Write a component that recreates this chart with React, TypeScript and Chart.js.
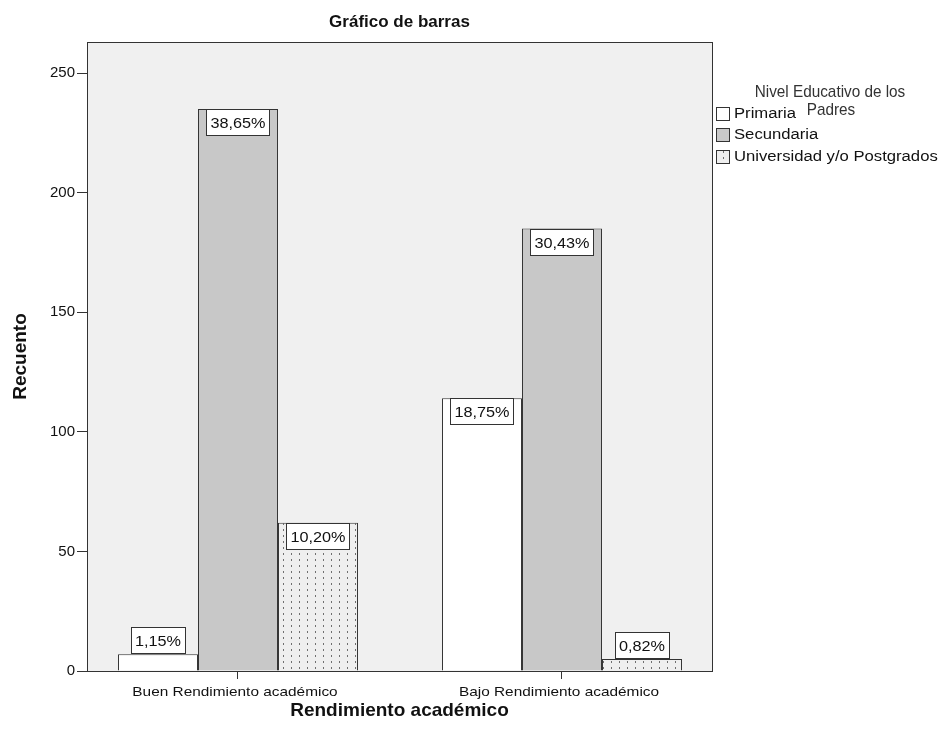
import React, { useEffect, useRef } from "react";
import { Chart, registerables, CategoryScale } from "chart.js";

Chart.register(...registerables);

const categories = ["Buen Rendimiento académico", "Bajo Rendimiento académico"];
const seriesNames = ["Primaria", "Secundaria", "Universidad y/o Postgrados"];
const primaria = [7, 114];
const secundaria = [235, 185];
const universidad = [62, 5];
const primariaPct = ["1,15%", "18,75%"];
const secundariaPct = ["38,65%", "30,43%"];
const universidadPct = ["10,20%", "0,82%"];
const yTicks = [0, 50, 100, 150, 200, 250];

const FONT = "'Liberation Sans', Arial, sans-serif";
const LINE = "#333333";

class ShiftCategoryScale extends (CategoryScale as any) {
  static id = "shiftcategory";
  static defaults = (CategoryScale as any).defaults;
  buildTicks() {
    const t = super.buildTicks();
    this._startValue = -0.466;
    this._valueRange = 1.929;
    return t;
  }
  configure() {
    super.configure();
    this._startValue = -0.466;
    this._valueRange = 1.929;
  }
}
Chart.register(ShiftCategoryScale as any);

function makeDotPattern(): CanvasPattern | string {
  const c = document.createElement("canvas");
  c.width = 8;
  c.height = 6;
  const g = c.getContext("2d");
  if (!g) return "#eeeeee";
  g.fillStyle = "#efefef";
  g.fillRect(0, 0, 8, 6);
  g.fillStyle = "#6f6f6f";
  g.fillRect(3, 1, 1, 2);
  const p = g.createPattern(c, "repeat");
  return p || "#eeeeee";
}

function scaledText(ctx: CanvasRenderingContext2D, txt: string, x: number, y: number, align: "left" | "center", sx: number) {
  ctx.save();
  ctx.translate(x, y);
  ctx.scale(sx, 1);
  ctx.textAlign = align;
  ctx.textBaseline = "middle";
  ctx.fillText(txt, 0, 0);
  ctx.restore();
}

export default function App() {
  const ref = useRef<HTMLCanvasElement>(null);

  useEffect(() => {
    if (!ref.current) return;
    const dot = makeDotPattern();
    const fills: any[] = ["#ffffff", "#c8c8c8", dot];
    const pcts = [primariaPct, secundariaPct, universidadPct];

    const plugin = {
      id: "spssDeco",
      beforeDraw(chart: any) {
        const { ctx, chartArea: a } = chart;
        ctx.save();
        ctx.fillStyle = "#ffffff";
        ctx.fillRect(0, 0, chart.width, chart.height);
        ctx.fillStyle = "#f0f0f0";
        ctx.fillRect(a.left, a.top, a.right - a.left, a.bottom - a.top);
        ctx.restore();
      },
      afterDatasetsDraw(chart: any) {
        const { ctx } = chart;
        ctx.save();
        ctx.font = `14.5px ${FONT}`;
        chart.data.datasets.forEach((ds: any, di: number) => {
          const meta = chart.getDatasetMeta(di);
          meta.data.forEach((el: any, i: number) => {
            const txt = pcts[di][i];
            const tw = ctx.measureText(txt).width * 1.12;
            const bw = Math.round(tw + 8);
            const bh = 26;
            const barH = el.base - el.y;
            let top = barH > bh + 2 ? el.y : el.y - bh - 1;
            const left = Math.round(el.x - bw / 2) + 0.5;
            top = Math.round(top) + 0.5;
            ctx.fillStyle = "#ffffff";
            ctx.fillRect(left, top, bw, bh);
            ctx.strokeStyle = LINE;
            ctx.lineWidth = 1;
            ctx.strokeRect(left, top, bw, bh);
            ctx.fillStyle = "#111111";
            scaledText(ctx, txt, el.x, top + bh / 2 + 1, "center", 1.12);
          });
        });
        ctx.restore();
      },
      afterDraw(chart: any) {
        const { ctx, chartArea: a } = chart;
        const xs = chart.scales.x;
        ctx.save();
        ctx.strokeStyle = LINE;
        ctx.lineWidth = 1;
        ctx.strokeRect(Math.round(a.left) + 0.5, Math.round(a.top) + 0.5, Math.round(a.right - a.left), Math.round(a.bottom - a.top));
        ctx.fillStyle = "#111111";
        ctx.textAlign = "center";
        ctx.textBaseline = "middle";
        const cx = (a.left + a.right) / 2;
        ctx.font = `bold 17px ${FONT}`;
        ctx.fillText("Gráfico de barras", cx, 22);
        ctx.font = `bold 19px ${FONT}`;
        ctx.fillText("Rendimiento académico", cx, 711);
        ctx.save();
        ctx.translate(21, (a.top + a.bottom) / 2);
        ctx.rotate(-Math.PI / 2);
        ctx.fillText("Recuento", 0, 0);
        ctx.restore();
        // category labels
        ctx.font = `13.5px ${FONT}`;
        ctx.fillStyle = "#111111";
        categories.forEach((c, i) => {
          scaledText(ctx, c, xs.getPixelForValue(i) - 3, 692, "center", 1.14);
        });
        // legend
        ctx.font = `17px ${FONT}`;
        ctx.fillStyle = "#333333";
        scaledText(ctx, "Nivel Educativo de los", 830, 92, "center", 0.9);
        scaledText(ctx, "Padres", 831, 110, "center", 0.9);
        ctx.font = `14px ${FONT}`;
        seriesNames.forEach((name, i) => {
          const cy = 113 + i * 21.5;
          const bx = 716.5, by = Math.round(cy - 6.5) + 0.5;
          ctx.fillStyle = fills[i];
          ctx.fillRect(bx, by, 13, 13);
          ctx.strokeStyle = LINE;
          ctx.strokeRect(bx, by, 13, 13);
          ctx.fillStyle = "#111111";
          scaledText(ctx, name, 734, cy + 1, "left", 1.19);
        });
        ctx.restore();
      },
    };

    const chart = new Chart(ref.current, {
      type: "bar",
      data: {
        labels: categories,
        datasets: [primaria, secundaria, universidad].map((d, i) => ({
          label: seriesNames[i],
          data: d,
          backgroundColor: fills[i],
          borderColor: LINE,
          borderWidth: 1,
          borderSkipped: "start" as const,
          categoryPercentage: 240 / 324,
          barPercentage: 1,
        })),
      },
      options: {
        responsive: false,
        animation: false,
        devicePixelRatio: 1,
        layout: { padding: { top: 42, right: 235, bottom: 0, left: 0 } },
        plugins: { legend: { display: false }, title: { display: false }, tooltip: { enabled: false } },
        scales: {
          x: {
            type: "shiftcategory",
            grid: { display: true, drawOnChartArea: false, drawTicks: true, tickLength: 8, color: LINE, offset: false },
            border: { display: true, color: LINE },
            ticks: { display: false },
            afterFit(scale: any) { scale.height = 69; },
          },
          y: {
            min: 0,
            max: 263,
            grid: { display: true, drawOnChartArea: false, drawTicks: true, tickLength: 10, color: LINE },
            border: { display: true, color: LINE },
            ticks: { stepSize: 50, color: "#111111", font: { family: FONT, size: 15 }, padding: 2 },
            afterBuildTicks(scale: any) { scale.ticks = yTicks.map((v) => ({ value: v })); },
            afterFit(scale: any) { scale.width = 87; },
          },
        },
      },
      plugins: [plugin],
    } as any);
    return () => chart.destroy();
  }, []);

  return (
    <div style={{ position: "fixed", left: 0, top: 0, width: 947, height: 740, background: "#fff" }}>
      <canvas ref={ref} width={947} height={740} style={{ width: 947, height: 740, display: "block" }} />
    </div>
  );
}
